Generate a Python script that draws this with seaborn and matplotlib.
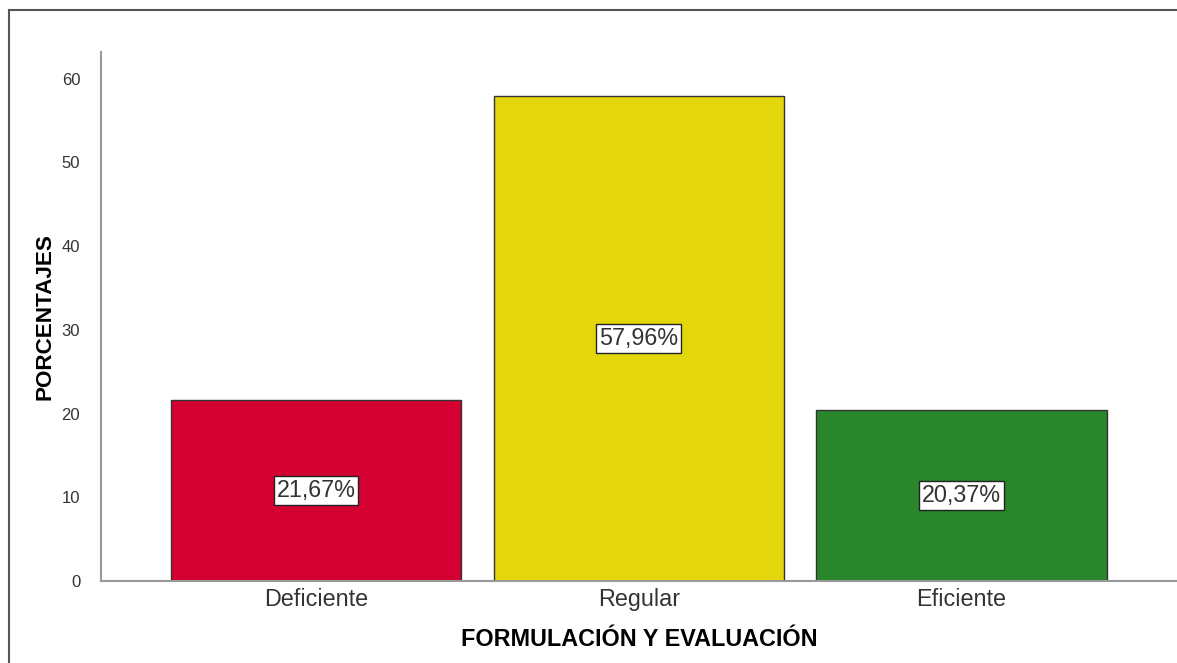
import matplotlib.pyplot as plt
import matplotlib.patches as mpatches
import pandas as pd
import seaborn as sns

# data
categorias = ["Deficiente", "Regular", "Eficiente"]
porcentajes = [21.67, 57.96, 20.37]
colores = ["#d50032", "#e3d70b", "#29862b"]
etiquetas = ["21,67%", "57,96%", "20,37%"]

df = pd.DataFrame({"Nivel": categorias, "Porcentaje": porcentajes})

sns.set_style("white")
plt.rcParams["font.family"] = ["Liberation Sans", "DejaVu Sans"]

fig = plt.figure(figsize=(11.77, 6.63), dpi=100)
axis = fig.add_axes([0.0858, 0.1237, 0.9142, 0.7979])

sns.barplot(data=df, x="Nivel", y="Porcentaje", hue="Nivel", palette=colores,
            width=0.9, edgecolor="#333333", linewidth=1.0, saturation=1,
            legend=False, ax=axis)

# value boxes in the middle of each bar
for i, (v, txt) in enumerate(zip(porcentajes, etiquetas)):
    axis.text(i, v / 2, txt, ha="center", va="center", fontsize=16.8, color="#333333",
              bbox={"boxstyle": "square,pad=0.12", "facecolor": "white",
                    "edgecolor": "#222222", "linewidth": 1.0})

axis.set_xlim(-0.667, 2.668)
axis.set_ylim(0, 63.2)
axis.set_yticks([0, 10, 20, 30, 40, 50, 60])
axis.tick_params(axis="y", labelsize=12, labelcolor="#333333", length=0, pad=15)
axis.tick_params(axis="x", labelsize=16.8, labelcolor="#333333", length=0, pad=5)

axis.spines['top'].set_visible(False)
axis.spines['right'].set_visible(False)
for s in ['left', 'bottom']:
    axis.spines[s].set_color("#999999")
    axis.spines[s].set_linewidth(1.5)

axis.set_xlabel("FORMULACIÓN Y EVALUACIÓN", fontsize=16.8, fontweight="bold",
                labelpad=12, color="black")
axis.set_ylabel("PORCENTAJES", fontsize=16.2, fontweight="bold", labelpad=4, color="black")

# outer frame of the exported chart (runs off the right and bottom edges)
fig.patches.append(mpatches.Rectangle((9 / 1177, -0.05), 1.1, 1.05 - 10 / 663,
                                      transform=fig.transFigure, fill=False,
                                      edgecolor="#555555", linewidth=1.5))

fig.savefig("out.png", dpi=100)
